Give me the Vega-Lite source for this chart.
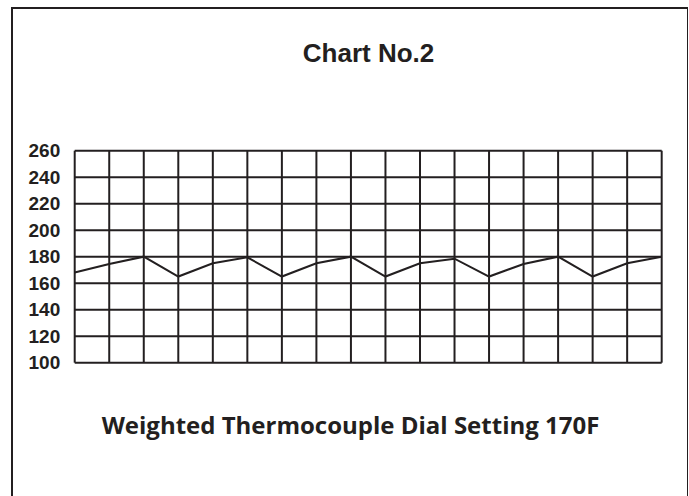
{
  "$schema": "https://vega.github.io/schema/vega-lite/v6.json",
  "width": 676,
  "height": 500,
  "padding": {"left": 12, "top": 8, "right": 0, "bottom": 0},
  "background": "white",
  "config": {
    "view": {"stroke": "#231f20", "strokeWidth": 2},
    "axis": {"grid": false}
  },
  "title": {
    "text": "Chart No.2",
    "offset": -59,
    "dx": 18.5,
    "font": "Liberation Sans",
    "fontSize": 26,
    "fontWeight": "bold",
    "color": "#231f20"
  },
  "datasets": {
    "reading": [
      {"step": 0, "temp": 168},
      {"step": 1, "temp": 174.5},
      {"step": 2, "temp": 180},
      {"step": 3, "temp": 165},
      {"step": 4, "temp": 175},
      {"step": 5, "temp": 179.5},
      {"step": 6, "temp": 165},
      {"step": 7, "temp": 175},
      {"step": 8, "temp": 180},
      {"step": 9, "temp": 165},
      {"step": 10, "temp": 175},
      {"step": 11, "temp": 178.5},
      {"step": 12, "temp": 165},
      {"step": 13, "temp": 174.5},
      {"step": 14, "temp": 180},
      {"step": 15, "temp": 165},
      {"step": 16, "temp": 175},
      {"step": 17, "temp": 180}
    ],
    "columns": [
      {"step": 0}, {"step": 1}, {"step": 2}, {"step": 3}, {"step": 4}, {"step": 5},
      {"step": 6}, {"step": 7}, {"step": 8}, {"step": 9}, {"step": 10}, {"step": 11},
      {"step": 12}, {"step": 13}, {"step": 14}, {"step": 15}, {"step": 16}, {"step": 17}
    ],
    "rows": [
      {"temp": 100}, {"temp": 120}, {"temp": 140}, {"temp": 160}, {"temp": 180},
      {"temp": 200}, {"temp": 220}, {"temp": 240}, {"temp": 260}
    ]
  },
  "layer": [
    {
      "data": {"name": "columns"},
      "mark": {"type": "rule", "color": "#231f20", "strokeWidth": 2},
      "encoding": {
        "x": {
          "field": "step",
          "type": "quantitative",
          "scale": {"domain": [-1.816, 17.762], "nice": false, "zero": false},
          "axis": {
            "orient": "bottom",
            "labels": false,
            "ticks": false,
            "domain": false,
            "grid": false,
            "title": "Weighted Thermocouple Dial Setting 170F",
            "titleY": -74.7,
            "titleBaseline": "alphabetic",
            "titleFont": "Open Sans",
            "titleFontSize": 24,
            "titleFontWeight": "bold",
            "titleColor": "#231f20"
          }
        },
        "y": {"datum": 100, "type": "quantitative"},
        "y2": {"datum": 260}
      }
    },
    {
      "data": {"name": "rows"},
      "mark": {"type": "rule", "color": "#231f20", "strokeWidth": 2},
      "encoding": {
        "y": {
          "field": "temp",
          "type": "quantitative",
          "scale": {"domain": [-9.7, 367.7], "nice": false, "zero": false},
          "axis": {
            "offset": -62.7,
            "values": [100, 120, 140, 160, 180, 200, 220, 240, 260],
            "ticks": false,
            "tickSize": 0,
            "domain": false,
            "grid": false,
            "title": null,
            "labelPadding": 15,
            "labelFont": "Liberation Sans",
            "labelFontSize": 19,
            "labelFontWeight": "bold",
            "labelColor": "#231f20"
          }
        },
        "x": {"datum": 0, "type": "quantitative"},
        "x2": {"datum": 17}
      }
    },
    {
      "data": {"name": "reading"},
      "mark": {"type": "line", "color": "#231f20", "strokeWidth": 2},
      "encoding": {
        "x": {"field": "step", "type": "quantitative"},
        "y": {"field": "temp", "type": "quantitative"}
      }
    }
  ]
}
